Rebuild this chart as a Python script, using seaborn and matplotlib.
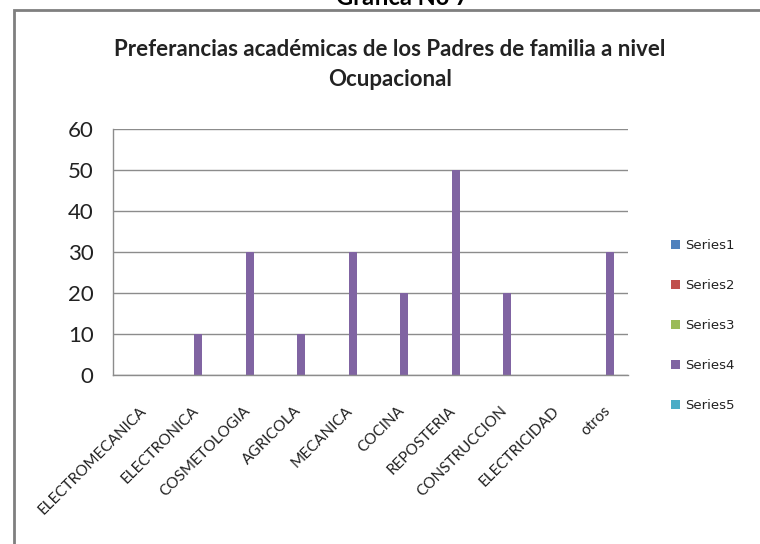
import pandas as pd
import seaborn as sns
import matplotlib.pyplot as plt
from matplotlib.patches import Rectangle
from matplotlib.transforms import ScaledTranslation

# Categories and values
categorias = ['ELECTROMECANICA', 'ELECTRONICA', 'COSMETOLOGIA', 'AGRICOLA', 'MECANICA',
              'COCINA', 'REPOSTERIA', 'CONSTRUCCION', 'ELECTRICIDAD', 'otros']
series = ['Series1', 'Series2', 'Series3', 'Series4', 'Series5']
series1 = [0, 0, 0, 0, 0, 0, 0, 0, 0, 0]
series2 = [0, 0, 0, 0, 0, 0, 0, 0, 0, 0]
series3 = [0, 0, 0, 0, 0, 0, 0, 0, 0, 0]
series4 = [0, 10, 30, 10, 30, 20, 50, 20, 0, 30]
series5 = [0, 0, 0, 0, 0, 0, 0, 0, 0, 0]
colores = ['#4F81BD', '#C0504D', '#9BBB59', '#8064A2', '#4BACC6']
y_ticks = [0, 10, 20, 30, 40, 50, 60]

# Long table for seaborn
valores = [series1, series2, series3, series4, series5]
filas = []
for s, vals in zip(series, valores):
    for c, v in zip(categorias, vals):
        filas.append({'categoria': c, 'serie': s, 'valor': v})
df = pd.DataFrame(filas)

sns.set_style('white')
plt.rcParams['font.family'] = ['Lato', 'DejaVu Sans']

fig = plt.figure(figsize=(7.6, 5.44), dpi=100)
W, H = 760, 544
ax = fig.add_axes([113 / W, 1 - 375 / H, (628 - 113) / W, (375 - 129) / H])

sns.barplot(data=df, x='categoria', y='valor', hue='serie', order=categorias,
            hue_order=series, palette=colores, saturation=1, width=5 / 6.5,
            linewidth=0, ax=ax)

ax.set_ylim(0, 60)
ax.set_yticks(y_ticks)
ax.set_xlim(-0.5, len(categorias) - 0.5)
ax.set_xlabel('')
ax.set_ylabel('')
ax.grid(axis='y', color='#8c8c8c', linewidth=1)
ax.set_axisbelow(True)
for side in ['top', 'right']:
    ax.spines[side].set_visible(False)
for side in ['left', 'bottom']:
    ax.spines[side].set_color('#8c8c8c')
    ax.spines[side].set_linewidth(1)
ax.tick_params(axis='both', length=0)
ax.tick_params(axis='y', labelsize=16, pad=14, labelcolor='#222222')

ax.set_xticks(range(len(categorias)))
ax.set_xticklabels(categorias, rotation=45, ha='right', rotation_mode='anchor',
                   fontsize=11, color='#222222')
offset = ScaledTranslation(1 / 100, -24 / 100, fig.dpi_scale_trans)
for lbl in ax.get_xticklabels():
    lbl.set_transform(lbl.get_transform() + offset)

# Legend on the right
handles, labels = ax.get_legend_handles_labels()
ax.legend(handles, labels, loc='upper left', bbox_to_anchor=(659 / W, 1 - 227 / H),
          bbox_transform=fig.transFigure, frameon=False,
          prop={'family': 'DejaVu Sans', 'size': 9.5},
          handlelength=0.7, handleheight=0.7, handletextpad=0.35, labelspacing=2.05)
for t in ax.get_legend().get_texts():
    t.set_color('#222222')

# Chart title
fig.text(390 / W, 1 - 56 / H, 'Preferancias académicas de los Padres de familia a nivel',
         ha='center', va='baseline', fontsize=16, fontweight='bold', color='#222222')
fig.text(390 / W, 1 - 86 / H, 'Ocupacional',
         ha='center', va='baseline', fontsize=16, fontweight='bold', color='#222222')

# Cut-off caption above the frame
fig.text(402 / W, 1 - 5 / H, 'Gráfica No 7', ha='center', va='baseline',
         fontsize=17, fontweight='bold', color='black')

# Outer frame (runs off the right and bottom edges)
fig.patches.append(Rectangle((14 / W, -0.1), 1, 1.1 - 10 / H, transform=fig.transFigure,
                             fill=False, edgecolor='#7f7f7f', linewidth=2))

fig.savefig('out.png', dpi=100)
